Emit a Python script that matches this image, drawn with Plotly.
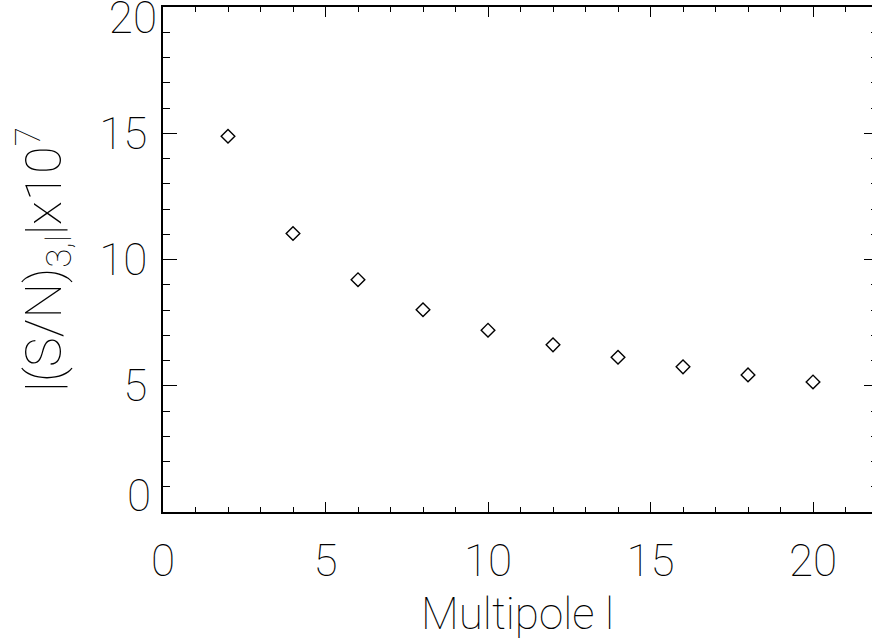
import plotly.graph_objects as go

multipole = [2, 4, 6, 8, 10, 12, 14, 16, 18, 20]
sn_values = [14.88, 11.03, 9.2, 8.01, 7.20, 6.62, 6.13, 5.75, 5.43, 5.15]

x_tick_vals = [0, 5, 10, 15, 20]
x_tick_text = ["0", "5", "10", "15", "20"]
y_tick_vals = [0, 5, 10, 15, 20]
y_tick_text = ["0", "5", "10", "15", "20"]

FONT = "Roboto"
W = 100

fig = go.Figure()
fig.add_trace(go.Scatter(
    x=multipole, y=sn_values, mode="markers",
    marker=dict(symbol="diamond-open", size=10.5, color="black",
                line=dict(width=1.4, color="black")),
    showlegend=False,
))
# empty helper traces so the overlaid label/tick axes are drawn
for ax in ["y2", "y3", "y4"]:
    fig.add_trace(go.Scatter(x=[], y=[], yaxis=ax, showlegend=False, hoverinfo="skip"))

tf = dict(family=FONT, size=44, weight=W, color="black")

fig.update_layout(
    width=872, height=641,
    margin=dict(l=163, r=0, t=7, b=129, autoexpand=False),
    paper_bgcolor="white", plot_bgcolor="white",
    font=dict(family=FONT, size=44, color="black", weight=W),
    xaxis=dict(
        range=[0, 21.815], tickvals=x_tick_vals, ticktext=x_tick_text,
        ticks="inside", ticklen=10, tickwidth=1.2, tickcolor="black",
        minor=dict(dtick=1, tick0=0, ticks="inside", ticklen=5, tickwidth=1.2, tickcolor="black"),
        showline=True, linecolor="black", linewidth=1.5, mirror="ticks",
        showgrid=False, zeroline=False, automargin=False,
        tickfont=tf,
        ticklabelstandoff=9,
        title=dict(text="Multipole l", font=dict(family=FONT, size=44, weight=W), standoff=13),
    ),
    yaxis=dict(
        range=[0, 20], tickvals=y_tick_vals,
        ticktext=["", y_tick_text[1], y_tick_text[2], y_tick_text[3], ""],
        ticks="inside", ticklen=14, tickwidth=1.2, tickcolor="black",
        minor=dict(dtick=1, tick0=0, ticks="inside", ticklen=7, tickwidth=1.2, tickcolor="black"),
        showline=True, linecolor="black", linewidth=1.5, mirror=False,
        showgrid=False, zeroline=False, automargin=False,
        tickfont=tf,
        ticklabelstandoff=5,
        title=dict(text="|(S/N)<sub>3,l</sub>|x10<sup>7</sup>",
                   font=dict(family=FONT, size=50, weight=W), standoff=22),
    ),
    yaxis2=dict(
        overlaying="y", side="left", anchor="x", range=[0, 20],
        tickvals=[y_tick_vals[0]], ticktext=[y_tick_text[0]], ticks="", showline=False,
        showgrid=False, zeroline=False, automargin=False,
        tickfont=tf, ticklabeloverflow="allow",
        ticklabelstandoff=11, ticklabelshift=-16,
    ),
    yaxis3=dict(
        overlaying="y", side="left", anchor="x", range=[0, 20],
        tickvals=[y_tick_vals[4]], ticktext=[y_tick_text[4]], ticks="", showline=False,
        showgrid=False, zeroline=False, automargin=False,
        tickfont=tf, ticklabeloverflow="allow",
        ticklabelstandoff=5, ticklabelshift=11,
    ),
    # right-hand ticks of the frame (frame edge lies just beyond the picture)
    yaxis4=dict(
        overlaying="y", side="right", anchor="x", range=[0, 20],
        tickvals=y_tick_vals, showticklabels=False,
        ticks="inside", ticklen=8, tickwidth=1.2, tickcolor="black",
        minor=dict(dtick=1, tick0=0, ticks="inside", ticklen=1.5, tickwidth=1.2, tickcolor="black"),
        showline=False, showgrid=False, zeroline=False, automargin=False,
    ),
)

fig.write_html(
    "out.html",
    config={"displayModeBar": False},
    post_script="document.body.style.margin='0';document.body.style.overflow='hidden';",
)
